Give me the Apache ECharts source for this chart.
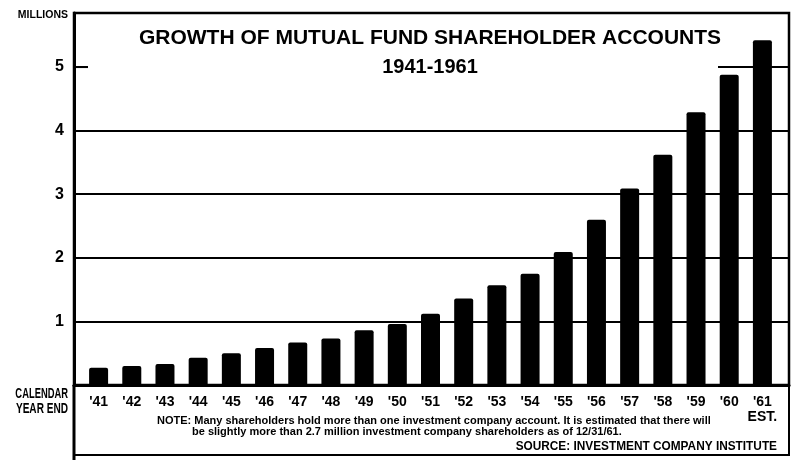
<!DOCTYPE html>
<html>
<head>
<meta charset="utf-8">
<script src="https://cdn.jsdelivr.net/npm/echarts@6/dist/echarts.min.js"></script>
<style>
html,body{margin:0;padding:0;background:#fff;}
#chart{width:799px;height:460px;}
</style>
</head>
<body>
<div id="chart"></div>
<script>
// ---- data ----
const years = ["'41","'42","'43","'44","'45","'46","'47","'48","'49","'50","'51","'52","'53","'54","'55","'56","'57","'58","'59","'60","'61\nEST."];
const accountsMillions = [0.27,0.30,0.33,0.43,0.50,0.58,0.67,0.73,0.86,0.96,1.12,1.36,1.57,1.75,2.09,2.60,3.09,3.62,4.29,4.88,5.42];
const yTickValues = [1,2,3,4,5];
const titleLine1 = 'GROWTH OF MUTUAL FUND SHAREHOLDER ACCOUNTS';
const titleLine2 = '1941-1961';
const unitLabel = 'MILLIONS';
const xAxisName = ['CALENDAR','YEAR END'];
const noteLine1 = 'NOTE: Many shareholders hold more than one investment company account. It is estimated that there will';
const noteLine2 = 'be slightly more than 2.7 million investment company shareholders as of 12/31/61.';
const sourceText = 'SOURCE: INVESTMENT COMPANY INSTITUTE';

// ---- layout ----
const W = 799, H = 460;
const L = 74, R = 789, T = 13, B = 385, BOX_B = 455;
const YMAX = 5.85;
const SANS = "'Liberation Sans','DejaVu Sans',sans-serif";

const chart = echarts.init(document.getElementById('chart'), null, {renderer:'canvas'});
const option = {
  backgroundColor: '#fff',
  animation: false,
  grid: [
    {left: L, right: W - R, top: T, bottom: H - B, show: true, borderColor: '#000', borderWidth: 2.5, backgroundColor: 'transparent', containLabel: false},
    {left: 82, right: W - 779, top: T, bottom: H - B, containLabel: false}
  ],
  xAxis: [
    {gridIndex: 0, type: 'category', data: [''], axisLine: {show: true, lineStyle: {color: '#000', width: 3}}, axisTick: {show: false}, axisLabel: {show: false}, splitLine: {show: false}},
    {gridIndex: 1, type: 'category', data: years, axisLine: {show: false}, axisTick: {show: false},
     axisLabel: {color: '#000', fontFamily: SANS, fontWeight: 'bold', fontSize: 14, margin: 10, interval: 0, lineHeight: 15, verticalAlign: 'top'}}
  ],
  yAxis: [
    {gridIndex: 0, type: 'value', min: 0, max: YMAX, interval: 1,
     axisLine: {show: true, lineStyle: {color: '#000', width: 3}}, axisTick: {show: false},
     axisLabel: {color: '#000', fontFamily: SANS, fontWeight: 'bold', fontSize: 16, margin: 10, showMaxLabel: false,
       formatter: v => (yTickValues.indexOf(v) >= 0 ? String(v) : '')},
     splitLine: {show: true, lineStyle: {color: '#000', width: 2}}},
    {gridIndex: 1, type: 'value', min: 0, max: YMAX, show: false, splitLine: {show: false}}
  ],
  series: [{
    type: 'bar', xAxisIndex: 1, yAxisIndex: 1, data: accountsMillions, barWidth: 19, z: 5,
    itemStyle: {color: '#000', borderRadius: [2,2,0,0]}
  }],
  graphic: [
    // white area behind the title that hides the 5-million rule
    {type: 'rect', z: 1, shape: {x: 88, y: 22, width: 630, height: 58}, style: {fill: '#fff'}},
    {type: 'text', z: 10, x: 430, y: 38, style: {text: titleLine1, align: 'center', verticalAlign: 'middle', font: "bold 21px " + SANS, fill: '#000'}},
    {type: 'text', z: 10, x: 430, y: 67, style: {text: titleLine2, align: 'center', verticalAlign: 'middle', font: "bold 20px " + SANS, fill: '#000'}},
    {type: 'text', z: 10, x: 68, y: 15, scaleX: 1.05, style: {text: unitLabel, align: 'right', verticalAlign: 'middle', font: "bold 10px " + SANS, fill: '#000'}},
    {type: 'text', z: 10, x: 68, y: 394, scaleX: 0.67, style: {text: xAxisName[0], align: 'right', verticalAlign: 'middle', font: "bold 14px " + SANS, fill: '#000'}},
    {type: 'text', z: 10, x: 68, y: 409, scaleX: 0.72, style: {text: xAxisName[1], align: 'right', verticalAlign: 'middle', font: "bold 14px " + SANS, fill: '#000'}},
    {type: 'text', z: 10, x: 157, y: 421, style: {text: noteLine1, align: 'left', verticalAlign: 'middle', font: "bold 11px " + SANS, fill: '#000'}},
    {type: 'text', z: 10, x: 192, y: 432, style: {text: noteLine2, align: 'left', verticalAlign: 'middle', font: "bold 11px " + SANS, fill: '#000'}},
    {type: 'text', z: 10, x: 777, y: 446, scaleX: 0.91, style: {text: sourceText, align: 'right', verticalAlign: 'middle', font: "bold 13px " + SANS, fill: '#000'}},
    // label box frame and axis extension
    {type: 'line', z: 10, shape: {x1: L, y1: B, x2: L, y2: H}, style: {stroke: '#000', lineWidth: 3}},
    {type: 'polyline', z: 10, shape: {points: [[L, BOX_B], [R, BOX_B], [R, B]]}, style: {stroke: '#000', lineWidth: 2, fill: null}},
    // short tick at 5
    {type: 'line', z: 10, shape: {x1: L, y1: B - 5 * (B - T) / YMAX, x2: 88, y2: B - 5 * (B - T) / YMAX}, style: {stroke: '#000', lineWidth: 2}}
  ]
};
chart.setOption(option);
</script>
</body>
</html>
